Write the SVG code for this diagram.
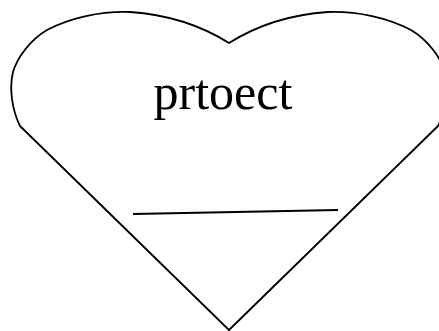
<svg xmlns="http://www.w3.org/2000/svg" width="439" height="331" viewBox="0 0 439 331">
<style>
.outline{fill:#fff;stroke:#000;stroke-width:1.8;stroke-linejoin:round}
.label{font-family:"Liberation Serif","Times New Roman",serif;font-size:50px;fill:#000}
.rule{stroke:#000;stroke-width:2}
</style>
<rect width="439" height="331" fill="#fff"/>
<g id="heart">
<path class="outline" d="M229,43 C205,28 175,15 130,12 C100,11 70,18 47,30 C30,40 17,58 13,72 C9,88 12,110 20,126 L229,330 L438,126 C446,110 449,88 445,72 C441,58 428,40 411,30 C388,18 358,11 328,12 C283,15 253,28 229,43 Z"/>
<text class="label" x="223" y="109" text-anchor="middle">prtoect</text>
<line class="rule" x1="133" y1="214" x2="338" y2="210"/>
</g>
</svg>
